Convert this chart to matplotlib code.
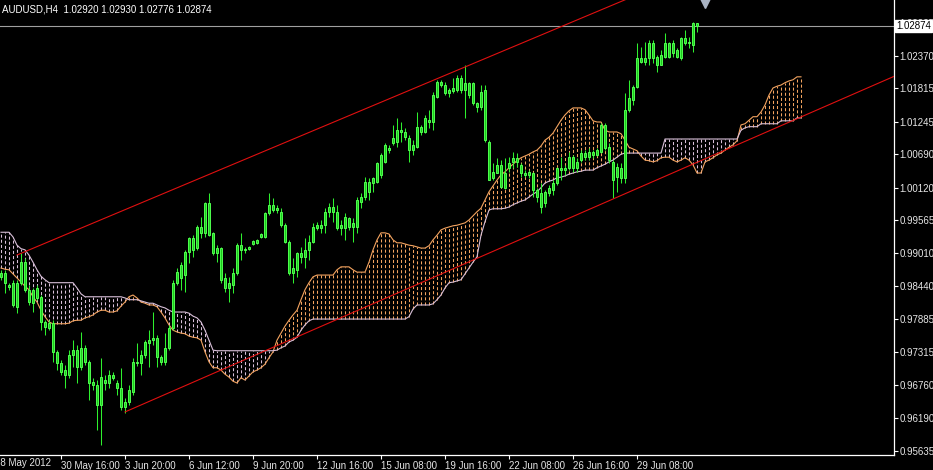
import matplotlib
matplotlib.use("Agg")
import matplotlib.pyplot as plt
import matplotlib.transforms as mtransforms
import numpy as np

plt.rcParams['font.family'] = ['Liberation Sans', 'DejaVu Sans']
plt.rcParams['lines.scale_dashes'] = False

symbol = "AUDUSD,H4"

# H4 candles, oldest first
opens = [
    .9860, .9867, .9846, .9850, .9809, .9850, .9885, .9838, .9815, .9841,
    .9826, .9783, .9773, .9781, .9732, .9713, .9693, .9693, .9727, .9735,
    .9706, .9739, .9715, .9681, .9676, .9642, .9679, .9679, .9693, .9679,
    .9671, .9638, .9647, .9664, .9715, .9713, .9727, .9747, .9752, .9756,
    .9723, .9715, .9739, .9773, .9850, .9858, .9863, .9902, .9926, .9909,
    .9945, .9935, .9986, .9935, .9901, .9909, .9858, .9841, .9846, .9867,
    .9914, .9906, .9908, .9916, .9918, .9928, .9928, .9969, .9983, .9974,
    .9971, .9948, .9919, .9867, .9872, .9901, .9894, .9906, .9919, .9943,
    .9948, .9948, .9971, .9979, .9971, .9943, .9943, .9960, .9945, .9945,
    .9996, .9996, 1.0022, 1.0020, 1.0022, 1.0034, 1.0056, 1.0080, 1.0088, 1.0090,
    1.0110, 1.0107, 1.0097, 1.0076, 1.0081, 1.0116, 1.0107, 1.0127, 1.0124, 1.0167,
    1.0192, 1.0187, 1.0173, 1.0176, 1.0179, 1.0199, 1.0179, 1.0191, 1.0190, 1.0156,
    1.0150, 1.0179, 1.0090, 1.0029, 1.0037, 1.0051, 1.0012, 1.0046, 1.0056, 1.0063,
    1.0051, 1.0037, 1.0034, 1.0037, 1.0008, 1.0003, .9986, 1.0003, 1.0008, 1.0020,
    1.0046, 1.0042, 1.0046, 1.0064, 1.0046, 1.0059, 1.0071, 1.0064, 1.0073, 1.0068,
    1.0073, 1.0119, 1.0081, 1.0056, 1.0030, 1.0045, 1.0028, 1.0145, 1.0162, 1.0184,
    1.0233, 1.0226, 1.0233, 1.0259, 1.0235, 1.0221, 1.0235, 1.0259, 1.0242, 1.0247,
    1.0233, 1.0267, 1.0259, 1.0256, 1.02920,
]
highs = [
    .9872, .9872, .9850, .9855, .9855, .9901, .9892, .9846, .9841, .9846,
    .9829, .9786, .9786, .9786, .9735, .9718, .9710, .9735, .9752, .9744,
    .9766, .9744, .9718, .9688, .9684, .9722, .9693, .9701, .9698, .9684,
    .9705, .9653, .9676, .9722, .9747, .9735, .9752, .9769, .9800, .9761,
    .9727, .9764, .9778, .9855, .9875, .9885, .9906, .9928, .9931, .9948,
    .9962, .9988, 1.0003, .9936, .9914, .9911, .9867, .9860, .9875, .9918,
    .9935, .9910, .9913, .9923, .9925, .9935, .9971, 1.0003, .9994, .9983,
    .9977, .9952, .9923, .9892, .9902, .9911, .9926, .9931, .9952, .9954,
    .9957, .9977, .9986, .9995, .9983, .9957, .9969, .9962, .9960, .9996,
    1.0003, 1.0030, 1.0029, 1.0030, 1.0056, 1.0071, 1.0088, 1.0085, 1.0119, 1.0131,
    1.0124, 1.0114, 1.0102, 1.0093, 1.0141, 1.0119, 1.0136, 1.0145, 1.0175, 1.0196,
    1.0196, 1.0192, 1.0182, 1.0199, 1.0204, 1.0204, 1.0221, 1.0192, 1.0192, 1.0158,
    1.0187, 1.0187, 1.0093, 1.0054, 1.0063, 1.0059, 1.0063, 1.0064, 1.0073, 1.0071,
    1.0054, 1.0042, 1.0042, 1.0039, 1.0011, 1.0020, 1.0008, 1.0017, 1.0025, 1.0047,
    1.0064, 1.0051, 1.0073, 1.0068, 1.0063, 1.0076, 1.0076, 1.0080, 1.0076, 1.0080,
    1.0122, 1.0122, 1.0088, 1.0059, 1.0054, 1.0054, 1.0173, 1.0196, 1.0187, 1.0259,
    1.0252, 1.0260, 1.0264, 1.0264, 1.0238, 1.0247, 1.0276, 1.0261, 1.0264, 1.0250,
    1.0269, 1.0281, 1.0269, 1.0294, 1.02930,
]
lows = [
    .9855, .9832, .9838, .9809, .9798, .9846, .9834, .9812, .9800, .9821,
    .9769, .9761, .9769, .9715, .9701, .9693, .9671, .9688, .9706, .9679,
    .9701, .9710, .9650, .9667, .9599, .9573, .9667, .9671, .9684, .9659,
    .9633, .9628, .9642, .9659, .9708, .9693, .9722, .9706, .9744, .9706,
    .9710, .9710, .9735, .9769, .9846, .9838, .9834, .9884, .9894, .9906,
    .9926, .9928, .9929, .9897, .9885, .9850, .9834, .9817, .9832, .9863,
    .9889, .9901, .9906, .9914, .9916, .9926, .9926, .9965, .9971, .9969,
    .9945, .9918, .9863, .9850, .9860, .9884, .9875, .9889, .9918, .9940,
    .9935, .9935, .9962, .9953, .9940, .9931, .9923, .9940, .9919, .9935,
    .9977, .9991, .9991, 1.0005, 1.0020, 1.0029, 1.0054, 1.0071, 1.0085, 1.0081,
    1.0090, 1.0093, 1.0056, 1.0068, 1.0080, 1.0102, 1.0105, 1.0114, 1.0110, 1.0165,
    1.0184, 1.0170, 1.0167, 1.0173, 1.0175, 1.0173, 1.0131, 1.0165, 1.0153, 1.0141,
    1.0145, 1.0090, 1.0025, 1.0025, 1.0037, 1.0012, 1.0010, 1.0039, 1.0046, 1.0047,
    1.0030, 1.0030, 1.0029, .9996, .9988, .9969, .9979, .9998, 1.0000, 1.0017,
    1.0025, 1.0034, 1.0042, 1.0039, 1.0039, 1.0056, 1.0059, 1.0059, 1.0063, 1.0066,
    1.0071, 1.0076, 1.0054, .9994, 1.0005, 1.0020, 1.0020, 1.0141, 1.0153, 1.0182,
    1.0225, 1.0221, 1.0221, 1.0225, 1.0209, 1.0221, 1.0233, 1.0233, 1.0235, 1.0233,
    1.0230, 1.0255, 1.0250, 1.0243, 1.02776,
]
closes = [
    .9867, .9850, .9843, .9812, .9850, .9885, .9838, .9817, .9838, .9824,
    .9783, .9775, .9781, .9732, .9713, .9698, .9701, .9727, .9735, .9706,
    .9739, .9715, .9679, .9676, .9642, .9689, .9684, .9693, .9688, .9671,
    .9638, .9647, .9667, .9715, .9713, .9727, .9749, .9752, .9756, .9723,
    .9715, .9739, .9773, .9850, .9868, .9880, .9902, .9926, .9906, .9945,
    .9935, .9986, .9931, .9901, .9909, .9855, .9841, .9850, .9867, .9914,
    .9906, .9908, .9911, .9921, .9923, .9933, .9969, .9983, .9974, .9977,
    .9948, .9919, .9867, .9875, .9901, .9894, .9906, .9919, .9945, .9948,
    .9943, .9971, .9979, .9971, .9943, .9948, .9962, .9945, .9952, .9991,
    .9988, 1.0022, 1.0005, 1.0029, 1.0054, 1.0068, 1.0085, 1.0076, 1.0097, 1.0110,
    1.0107, 1.0098, 1.0076, 1.0085, 1.0116, 1.0107, 1.0131, 1.0124, 1.0170, 1.0192,
    1.0187, 1.0173, 1.0179, 1.0182, 1.0199, 1.0179, 1.0191, 1.0170, 1.0156, 1.0150,
    1.0175, 1.0093, 1.0025, 1.0039, 1.0051, 1.0013, 1.0037, 1.0054, 1.0063, 1.0056,
    1.0037, 1.0034, 1.0038, 1.0008, .9996, .9979, 1.0005, 1.0012, 1.0020, 1.0046,
    1.0042, 1.0046, 1.0064, 1.0046, 1.0056, 1.0071, 1.0064, 1.0073, 1.0068, 1.0076,
    1.0119, 1.0080, 1.0059, 1.0025, 1.0047, 1.0028, 1.0145, 1.0165, 1.0184, 1.0233,
    1.0226, 1.0233, 1.0259, 1.0233, 1.0221, 1.0238, 1.0259, 1.0235, 1.0259, 1.0235,
    1.0267, 1.0259, 1.0261, 1.0293, 1.02874,
]

# Ichimoku cloud (Senkou spans, already shifted 26 bars forward)
span_a = [
    .9875, .9873, .9872, .9865, .9858, .9851, .9844, .9838, .9826, .9817,
    .9803, .9792, .9783, .9780, .9780, .9780, .9780, .9781, .9785, .9786,
    .9786, .9790, .9792, .9795, .9800, .9803, .9803, .9800, .9800, .9802,
    .9810, .9817, .9826, .9829, .9824, .9817, .9815, .9812, .9812, .9809,
    .9800, .9790, .9778, .9769, .9766, .9764, .9763, .9759, .9757, .9756,
    .9752, .9732, .9715, .9705, .9705, .9701, .9694, .9689, .9682, .9679,
    .9688, .9684, .9691, .9698, .9701, .9705, .9711, .9722, .9732, .9752,
    .9764, .9776, .9786, .9795, .9803, .9821, .9838, .9850, .9860, .9863,
    .9863, .9863, .9863, .9863, .9872, .9877, .9877, .9877, .9872, .9868,
    .9868, .9868, .9885, .9906, .9923, .9935, .9935, .9933, .9923, .9918,
    .9918, .9916, .9914, .9913, .9911, .9909, .9909, .9913, .9923, .9931,
    .9940, .9943, .9945, .9947, .9948, .9950, .9952, .9957, .9964, .9971,
    .9977, .9991, 1.0005, 1.0015, 1.0025, 1.0034, 1.0039, 1.0046, 1.0052, 1.0058,
    1.0063, 1.0066, 1.0069, 1.0073, 1.0076, 1.0083, 1.0093, 1.0098, 1.0105, 1.0116,
    1.0127, 1.0136, 1.0143, 1.0148, 1.0148, 1.0148, 1.0145, 1.0136, 1.0126, 1.0124,
    1.0124, 1.0110, 1.0107, 1.0107, 1.0107, 1.0104, 1.0093, 1.0081, 1.0078, 1.0075,
    1.0066, 1.0059, 1.0058, 1.0056, 1.0058, 1.0063, 1.0064, 1.0064, 1.0059, 1.0056,
    1.0059, 1.0063, 1.0059, 1.0051, 1.0037, 1.0037, 1.0056, 1.0059, 1.0063, 1.0068,
    1.0071, 1.0076, 1.0081, 1.0085, 1.0092, 1.0119, 1.0121, 1.0127, 1.0133, 1.0133,
    1.0141, 1.0153, 1.0170, 1.0182, 1.0185, 1.0187, 1.0191, 1.0194, 1.0196, 1.0201,
    1.0201,
]
span_b = [
    .9936, .9936, .9936, .9928, .9914, .9908, .9906, .9897, .9885, .9872,
    .9861, .9855, .9850, .9850, .9850, .9850, .9850, .9850, .9850, .9841,
    .9831, .9826, .9826, .9826, .9826, .9826, .9826, .9826, .9826, .9826,
    .9826, .9824, .9821, .9821, .9821, .9819, .9817, .9815, .9815, .9812,
    .9809, .9807, .9803, .9800, .9800, .9800, .9800, .9798, .9793, .9790,
    .9783, .9769, .9752, .9735, .9734, .9734, .9734, .9734, .9734, .9734,
    .9734, .9734, .9734, .9734, .9734, .9734, .9734, .9734, .9734, .9735,
    .9739, .9742, .9749, .9752, .9757, .9769, .9778, .9785, .9788, .9788,
    .9788, .9788, .9788, .9788, .9788, .9788, .9788, .9788, .9788, .9788,
    .9788, .9788, .9788, .9788, .9788, .9788, .9788, .9788, .9788, .9788,
    .9788, .9788, .9792, .9805, .9812, .9812, .9812, .9812, .9814, .9821,
    .9829, .9841, .9850, .9851, .9853, .9855, .9865, .9875, .9885, .9894,
    .9931, .9954, .9974, .9976, .9976, .9976, .9977, .9979, .9983, .9986,
    .9989, .9991, .9996, 1.0001, 1.0005, 1.0012, 1.0020, 1.0023, 1.0025, 1.0029,
    1.0030, 1.0032, 1.0035, 1.0037, 1.0039, 1.0040, 1.0042, 1.0042, 1.0042, 1.0046,
    1.0049, 1.0052, 1.0056, 1.0059, 1.0064, 1.0069, 1.0071, 1.0071, 1.0071, 1.0071,
    1.0071, 1.0071, 1.0071, 1.0071, 1.0071, 1.0071, 1.0095, 1.0095, 1.0095, 1.0095,
    1.0095, 1.0095, 1.0095, 1.0095, 1.0095, 1.0095, 1.0095, 1.0095, 1.0095, 1.0095,
    1.0095, 1.0095, 1.0095, 1.0095, 1.0095, 1.0110, 1.0114, 1.0116, 1.0116, 1.0116,
    1.0121, 1.0121, 1.0121, 1.0121, 1.0121, 1.0126, 1.0126, 1.0126, 1.0126, 1.0131,
    1.0131,
]

# trend lines: (bar index, price) anchors, drawn as rays to the right
upper_bars, upper_prices = [4, 116], [0.98972, 1.02178]
lower_bars, lower_prices = [31, 153], [0.96296, 0.99927]

first_date = "28 May 2012"
date_labels = ["30 May 16:00", "3 Jun 20:00", "6 Jun 12:00", "9 Jun 20:00",
               "12 Jun 16:00", "15 Jun 08:00", "19 Jun 16:00", "22 Jun 08:00",
               "26 Jun 16:00", "29 Jun 08:00"]
price_ticks = [0.95635, 0.96190, 0.96760, 0.97315, 0.97885, 0.98440, 0.99010,
               0.99565, 1.00120, 1.00690, 1.01245, 1.01815, 1.02370, 1.02925]

bars_per_label = 16
first_label_bar = 15
fs = 7

fig = plt.figure(figsize=(9.33, 4.70), dpi=100, facecolor='black')
ax = fig.add_axes([0, 15 / 470, 894 / 933, 455 / 470], facecolor='black')
ax.set_xlim(-0.25, 223.25)
ax.set_ylim(0.95562, 1.03320)

# cloud hatching + span lines
a = np.array(span_a)
b = np.array(span_b)
xs = np.arange(len(a))
up = a >= b
dash = (0, (2.2, 1.5))
ax.vlines(xs[up], b[up], a[up], colors='#f4a460', linestyles=[dash], lw=0.75, zorder=1)
ax.vlines(xs[~up], a[~up], b[~up], colors='#d8bfd8', linestyles=[dash], lw=0.75, zorder=1)
ax.plot(xs, a, color='#f4a460', lw=0.8, zorder=2)
ax.plot(xs, b, color='#d8bfd8', lw=0.8, zorder=2)

# last price line
ax.axhline(closes[-1], color='#a0a0a0', lw=0.8, zorder=2)

# candles
o = np.array(opens)
c = np.array(closes)
idx = np.arange(len(c))
ax.vlines(idx, lows, highs, color='#2ef02e', lw=0.75, zorder=3)
ax.bar(idx, np.abs(c - o), 0.5, bottom=np.minimum(o, c), color='#1ccc1c',
       edgecolor='#50ff50', lw=0.7, zorder=4)

# trend lines
x_end = ax.get_xlim()[1]
for bars, prices in [(upper_bars, upper_prices), (lower_bars, lower_prices)]:
    slope = (prices[1] - prices[0]) / (bars[1] - bars[0])
    ax.plot([bars[0], x_end], [prices[0], prices[0] + slope * (x_end - bars[0])],
            color='#e01010', lw=0.8, zorder=5)

# chart shift marker
trans = mtransforms.blended_transform_factory(ax.transData, ax.transAxes)
ax.plot([len(c) + 1], [0.993], marker='v', ms=7, color='#a9b3c3',
        transform=trans, clip_on=False, zorder=6)

# axes styling
for s in ['left', 'top']:
    ax.spines[s].set_visible(False)
for s in ['right', 'bottom']:
    ax.spines[s].set_color('white')
    ax.spines[s].set_linewidth(0.9)

ax.yaxis.tick_right()
ax.set_yticks(price_ticks)
ax.set_yticklabels([f'{v:.5f}' for v in price_ticks])
ax.tick_params(axis='y', colors='white', labelcolor='#e6e6e6', labelsize=fs,
               length=3, width=0.8, pad=1)

label_bars = [first_label_bar + k * bars_per_label for k in range(len(date_labels))]
ax.set_xticks(label_bars)
ax.set_xticklabels(date_labels, ha='left')
ax.tick_params(axis='x', colors='white', labelcolor='#e6e6e6', labelsize=fs,
               length=3, width=0.8, pad=1.5)

fig.text(-5 / 933, 7 / 470, first_date, color='#e6e6e6', fontsize=fs,
         ha='left', va='center')

# current price tag
ax.annotate(f'{closes[-1]:.5f}', xy=(1, closes[-1]),
            xycoords=('axes fraction', 'data'), xytext=(1.5, 0),
            textcoords='offset points', ha='left', va='center', fontsize=fs,
            color='black', annotation_clip=False, zorder=10,
            bbox=dict(boxstyle='square,pad=0.12', fc='white', ec='white'))

fig.text(2 / 933, 1 - 9 / 470,
         f"{symbol}  {opens[-1]:.5f} {highs[-1]:.5f} {lows[-1]:.5f} {closes[-1]:.5f}",
         color='white', fontsize=fs, ha='left', va='center')

fig.savefig('out.png', dpi=100, facecolor='black')
